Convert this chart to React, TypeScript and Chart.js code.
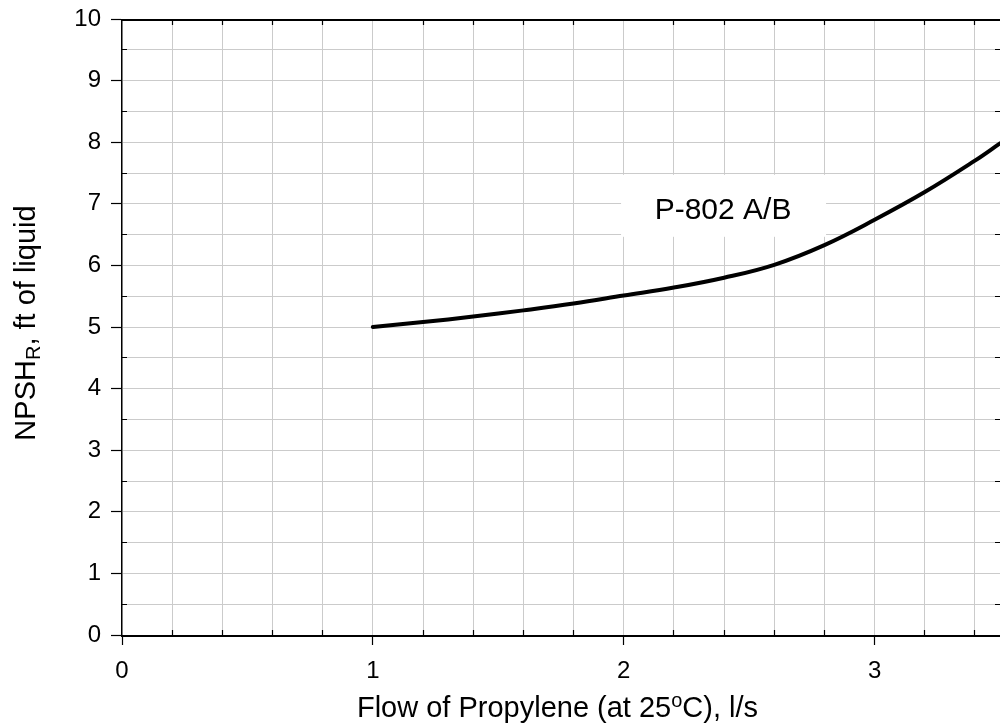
import React, { useEffect, useRef } from "react";
import { Chart, registerables } from "chart.js";

Chart.register(...registerables);

const FONT = '"Liberation Sans", Arial, Helvetica, sans-serif';

// Curve data
const flowLs = [1.0, 1.2, 1.4, 1.6, 1.8, 2.0, 2.2, 2.4, 2.6, 2.8, 3.0, 3.2, 3.4, 3.5];
const npshFt = [5.0, 5.08, 5.17, 5.27, 5.38, 5.51, 5.64, 5.8, 6.01, 6.33, 6.74, 7.19, 7.7, 7.98];

// Axis ranges and steps
const xRange = [0, 3.5];
const xMinorStep = 0.2;
const yRange = [0, 10];
const yMinorStep = 0.5;

// Texts
const curveLabel = "P-802 A/B";
const curveLabelAt = [2.4, 7.0];
const xTitleParts: [string, string][] = [
  ["Flow of Propylene (at 25", "n"],
  ["o", "sup"],
  ["C), l/s", "n"],
];
const yTitleParts: [string, string][] = [
  ["NPSH", "n"],
  ["R", "sub"],
  [", ft of liquid", "n"],
];

const isInt = (v: number) => Math.abs(v - Math.round(v)) < 1e-6;
const align = (p: number) => Math.round(p - 0.5) + 0.5;

function drawRich(
  ctx: CanvasRenderingContext2D,
  parts: [string, string][],
  cx: number,
  baseline: number,
  mainSize: number,
  smallSize: number,
  supShift: number,
  subShift: number
) {
  const widths = parts.map(([t, k]) => {
    ctx.font = `${k === "n" ? mainSize : smallSize}px ${FONT}`;
    return ctx.measureText(t).width;
  });
  const total = widths.reduce((a, b) => a + b, 0);
  let x = cx - total / 2;
  ctx.textAlign = "left";
  ctx.textBaseline = "alphabetic";
  parts.forEach(([t, k], i) => {
    ctx.font = `${k === "n" ? mainSize : smallSize}px ${FONT}`;
    const dy = k === "sup" ? -supShift : k === "sub" ? subShift : 0;
    ctx.fillText(t, x, baseline + dy);
    x += widths[i];
  });
}

const overlayPlugin = {
  id: "overlay",
  beforeDatasetsDraw(chart: any) {
    const { ctx, scales } = chart;
    const cx = scales.x.getPixelForValue(curveLabelAt[0]);
    const cy = scales.y.getPixelForValue(curveLabelAt[1]);
    ctx.save();
    ctx.fillStyle = "#ffffff";
    ctx.fillRect(cx - 103, cy - 29, 205, 62);
    ctx.fillStyle = "#000000";
    ctx.font = `30px ${FONT}`;
    ctx.textAlign = "center";
    ctx.textBaseline = "alphabetic";
    ctx.fillText(curveLabel, cx - 1, cy + 15);
    ctx.restore();
  },
  afterDraw(chart: any) {
    const { ctx, chartArea, scales } = chart;
    const { left, right, top, bottom } = chartArea;
    ctx.save();
    ctx.fillStyle = "#000000";
    ctx.strokeStyle = "#000000";
    // frame
    ctx.fillRect(left, top, right - left, 2);
    ctx.fillRect(left, bottom, right - left, 2);
    ctx.fillRect(left - 1, top, 1.4, bottom + 2 - top);
    ctx.lineWidth = 1.2;
    // x ticks
    const nx = Math.round((xRange[1] - xRange[0]) / xMinorStep);
    for (let i = 0; i <= nx; i++) {
      const v = Math.round((xRange[0] + i * xMinorStep) * 1000) / 1000;
      if (v > xRange[1]) break;
      const px = align(scales.x.getPixelForValue(v));
      ctx.beginPath();
      if (isInt(v)) {
        ctx.moveTo(px, bottom + 2);
        ctx.lineTo(px, bottom + 10);
      } else {
        ctx.moveTo(px, bottom);
        ctx.lineTo(px, bottom - 5);
        ctx.moveTo(px, top + 2);
        ctx.lineTo(px, top + 6);
      }
      ctx.stroke();
    }
    // y ticks
    const ny = Math.round((yRange[1] - yRange[0]) / yMinorStep);
    for (let i = 0; i <= ny; i++) {
      const v = yRange[0] + i * yMinorStep;
      const py = align(scales.y.getPixelForValue(v));
      ctx.beginPath();
      if (isInt(v)) {
        ctx.moveTo(left - 1, py);
        ctx.lineTo(left - 11, py);
      } else {
        ctx.moveTo(left, py);
        ctx.lineTo(left + 5, py);
        ctx.moveTo(right, py);
        ctx.lineTo(right - 5, py);
      }
      ctx.stroke();
    }
    // axis titles
    ctx.fillStyle = "#000000";
    drawRich(ctx, xTitleParts, 557.5, 717, 29, 20, 10, 4);
    ctx.save();
    ctx.translate(35, 323);
    ctx.rotate(-Math.PI / 2);
    drawRich(ctx, yTitleParts, 0, 0, 29, 20, 10, 5);
    ctx.restore();
    ctx.restore();
  },
};

export default function App() {
  const canvasRef = useRef<HTMLCanvasElement | null>(null);

  useEffect(() => {
    document.body.style.margin = "0";
    document.body.style.overflow = "hidden";
    const canvas = canvasRef.current;
    if (!canvas) return;
    const chart = new Chart(canvas, {
      type: "line",
      data: {
        datasets: [
          {
            data: flowLs.map((x, i) => ({ x, y: npshFt[i] })),
            borderColor: "#000000",
            borderWidth: 4,
            pointRadius: 0,
            fill: false,
            tension: 0.4,
            borderCapStyle: "round",
            borderJoinStyle: "round",
          },
        ],
      },
      options: {
        responsive: false,
        animation: false,
        devicePixelRatio: 1,
        layout: { padding: { top: 19, right: 0, bottom: 0, left: 0 } },
        plugins: { legend: { display: false }, tooltip: { enabled: false } },
        scales: {
          x: {
            type: "linear",
            min: xRange[0],
            max: xRange[1],
            border: { display: false },
            grid: { color: "#cbcbcb", lineWidth: 1, drawTicks: false },
            ticks: {
              stepSize: xMinorStep,
              includeBounds: false,
              autoSkip: false,
              maxRotation: 0,
              minRotation: 0,
              padding: 22,
              color: "#000000",
              font: { family: FONT, size: 24 },
              callback: (v: any) => (isInt(Number(v)) ? String(Math.round(Number(v))) : ""),
            },
            afterFit: (s: any) => {
              s.height = 92;
              s.paddingLeft = 0;
              s.paddingRight = 0;
            },
          },
          y: {
            type: "linear",
            min: yRange[0],
            max: yRange[1],
            border: { display: false },
            grid: { color: "#cbcbcb", lineWidth: 1, drawTicks: false },
            ticks: {
              stepSize: yMinorStep,
              autoSkip: false,
              padding: 21,
              color: "#000000",
              font: { family: FONT, size: 24 },
              callback: (v: any) => (isInt(Number(v)) ? String(Math.round(Number(v))) : ""),
            },
            afterFit: (s: any) => {
              s.width = 122;
              s.paddingTop = 0;
              s.paddingBottom = 0;
            },
          },
        },
      } as any,
      plugins: [overlayPlugin],
    });
    return () => chart.destroy();
  }, []);

  return (
    <div style={{ width: 1000, height: 727 }}>
      <canvas ref={canvasRef} width={1000} height={727} style={{ display: "block" }} />
    </div>
  );
}
